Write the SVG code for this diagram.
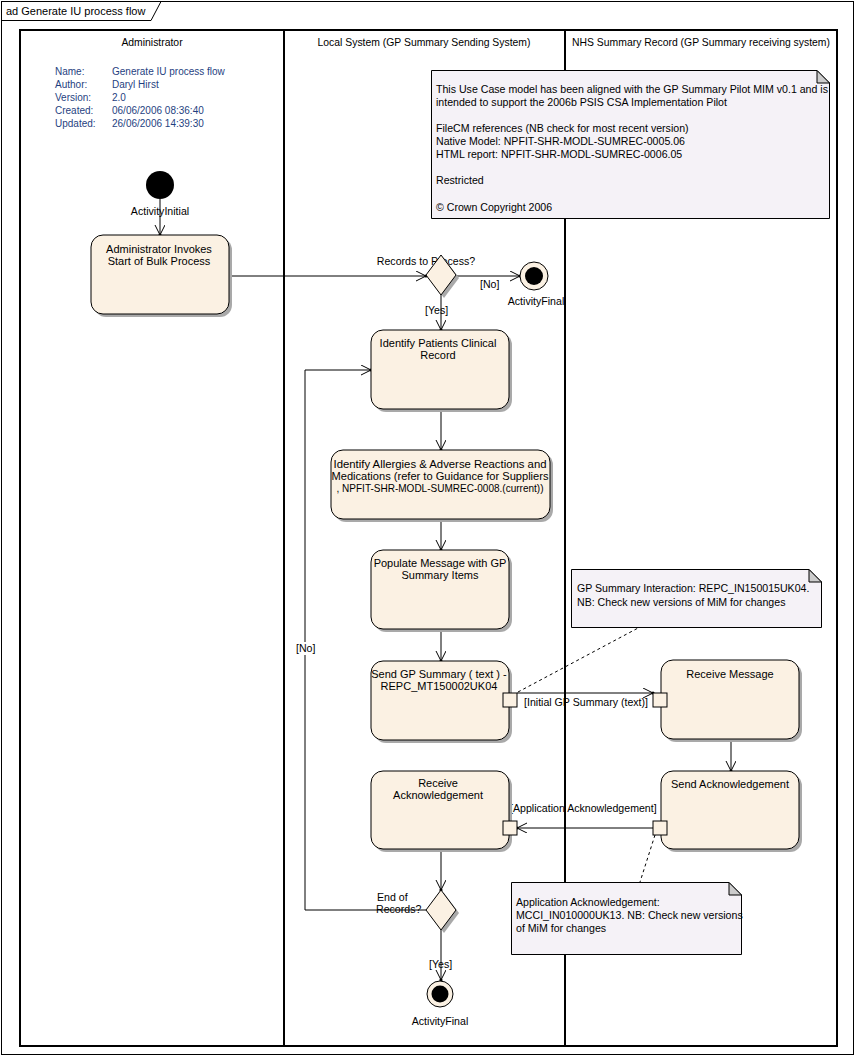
<svg xmlns="http://www.w3.org/2000/svg" width="857" height="1058" viewBox="0 0 857 1058">
<style>
.t{font-family:"Liberation Sans",Arial,sans-serif;font-size:10.6px;fill:#000}
.h{font-size:10.4px}
.nt{font-size:11px}
.m{fill:#1F3F7F;font-size:10px}
.mid{text-anchor:middle}
.n{fill:#FBF1E3;stroke:#000;stroke-width:1}
.sh{fill:#A9A9A9}
.pin{fill:#FBF1E3;stroke:#000;stroke-width:1}
.note{fill:#F5F2F7;stroke:#000;stroke-width:1}
.fold{fill:#CCCCCC;stroke:#000;stroke-width:1}
.c{fill:none;stroke:#000;stroke-width:1}
.d{fill:none;stroke:#000;stroke-width:1;stroke-dasharray:3,3}
</style>
<defs>
<marker id="arr" markerUnits="userSpaceOnUse" markerWidth="14" markerHeight="12" refX="11" refY="5" orient="auto">
<path d="M1,0 L11,5 L1,10" fill="none" stroke="#000" stroke-width="1"/>
<circle cx="11" cy="5" r="1.6" fill="#000"/>
</marker>
</defs>
<rect width="857" height="1058" fill="#fff"/>
<g id="frame">
<rect x="1.5" y="1.5" width="852" height="1053" fill="none" stroke="#000" stroke-width="1"/>
<path d="M1.5,20.5 H151 L161,1.5" fill="none" stroke="#000" stroke-width="1"/>
<text class="t" x="6" y="15" style="font-size:11px">ad Generate IU process flow</text>
</g>
<g id="lanes">
<rect x="20" y="30" width="817" height="1016" fill="none" stroke="#000" stroke-width="2"/>
<line x1="284" y1="30" x2="284" y2="1046" stroke="#000" stroke-width="2"/>
<line x1="565" y1="30" x2="565" y2="1046" stroke="#000" stroke-width="2"/>
<text class="t h mid" x="152" y="46">Administrator</text>
<text class="t h mid" x="424" y="46">Local System (GP Summary Sending System)</text>
<text class="t h mid" x="701" y="46">NHS Summary Record (GP Summary receiving system)</text>
</g>
<g id="meta">
<text class="t m" x="55" y="75">Name:</text><text class="t m" x="112" y="75">Generate IU process flow</text>
<text class="t m" x="55" y="88">Author:</text><text class="t m" x="112" y="88">Daryl Hirst</text>
<text class="t m" x="55" y="101">Version:</text><text class="t m" x="112" y="101">2.0</text>
<text class="t m" x="55" y="114">Created:</text><text class="t m" x="112" y="114">06/06/2006 08:36:40</text>
<text class="t m" x="55" y="127">Updated:</text><text class="t m" x="112" y="127">26/06/2006 14:39:30</text>
</g>
<g id="connectors">
<line class="c" x1="160" y1="199" x2="160" y2="235" marker-end="url(#arr)"/>
<line class="c" x1="229" y1="276" x2="426" y2="276" marker-end="url(#arr)"/>
<line class="c" x1="456" y1="276" x2="520" y2="276" marker-end="url(#arr)"/>
<line class="c" x1="441" y1="295" x2="441" y2="330" marker-end="url(#arr)"/>
<line class="c" x1="441" y1="409" x2="441" y2="450" marker-end="url(#arr)"/>
<line class="c" x1="441" y1="519" x2="441" y2="550" marker-end="url(#arr)"/>
<line class="c" x1="441" y1="629" x2="441" y2="661" marker-end="url(#arr)"/>
<line class="c" x1="517" y1="693" x2="653" y2="693" marker-end="url(#arr)"/>
<line class="c" x1="731" y1="739" x2="731" y2="771" marker-end="url(#arr)"/>
<line class="c" x1="653" y1="828" x2="517" y2="828" marker-end="url(#arr)"/>
<line class="c" x1="441" y1="849" x2="441" y2="890" marker-end="url(#arr)"/>
<line class="c" x1="441" y1="930" x2="441" y2="980" marker-end="url(#arr)"/>
<polyline class="c" points="426,910 305,910 305,370 371,370" marker-end="url(#arr)"/>
<line class="d" x1="518" y1="692" x2="640" y2="627"/>
<line class="d" x1="655" y1="835" x2="640" y2="882"/>
<text class="t mid" x="426" y="265">Records to Process?</text>
<text class="t" x="480" y="288">[No]</text>
<text class="t" x="425" y="314">[Yes]</text>
<rect x="295" y="642" width="22" height="13" fill="#fff"/>
<text class="t" x="296" y="652">[No]</text>
<text class="t" x="524" y="706">[Initial GP Summary (text)]</text>
<text class="t" x="510" y="812">[Application Acknowledgement]</text>
<text class="t" x="377" y="901">End of</text>
<text class="t" x="376" y="913">Records?</text>
<text class="t" x="429" y="968">[Yes]</text>
</g>
<g id="initial">
<circle cx="160" cy="185" r="14" fill="#000"/>
<text class="t mid" x="160" y="215">ActivityInitial</text>
</g>
<g id="adminInvokes">
<rect class="sh" x="94" y="238" width="138" height="79" rx="12"/>
<rect class="n" x="91" y="235" width="138" height="79" rx="12"/>
<text class="t nt mid" x="159" y="253">Administrator Invokes</text>
<text class="t nt mid" x="159" y="265">Start of Bulk Process</text>
</g>
<g id="decision1">
<path class="sh" d="M444,258 L459,278 L444,298 L429,278 Z"/>
<path class="n" d="M441,255 L456,275 L441,295 L426,275 Z"/>
</g>
<g id="final1">
<circle cx="534" cy="276" r="14" fill="#FBF1E3" stroke="#000"/>
<circle cx="534" cy="276" r="9" fill="#000"/>
<text class="t mid" x="536" y="305">ActivityFinal</text>
</g>
<g id="identifyPatients">
<rect class="sh" x="374" y="333" width="138" height="79" rx="12"/>
<rect class="n" x="371" y="330" width="138" height="79" rx="12"/>
<text class="t nt mid" x="438" y="347">Identify Patients Clinical</text>
<text class="t nt mid" x="438" y="359">Record</text>
</g>
<g id="identifyAllergies">
<rect class="sh" x="334" y="453" width="219" height="69" rx="12"/>
<rect class="n" x="331" y="450" width="219" height="69" rx="12"/>
<text class="t nt mid" x="440" y="468" textLength="213" lengthAdjust="spacingAndGlyphs">Identify Allergies &amp; Adverse Reactions and</text>
<text class="t nt mid" x="440" y="480" textLength="217" lengthAdjust="spacingAndGlyphs">Medications (refer to Guidance for Suppliers</text>
<text class="t nt mid" x="440" y="492" textLength="207" lengthAdjust="spacingAndGlyphs">, NPFIT-SHR-MODL-SUMREC-0008.(current))</text>
</g>
<g id="populate">
<rect class="sh" x="374" y="553" width="138" height="79" rx="12"/>
<rect class="n" x="371" y="550" width="138" height="79" rx="12"/>
<text class="t nt mid" x="440" y="567">Populate Message with GP</text>
<text class="t nt mid" x="440" y="579">Summary Items</text>
</g>
<g id="sendSummary">
<rect class="sh" x="374" y="664" width="138" height="79" rx="12"/>
<rect class="n" x="371" y="661" width="138" height="79" rx="12"/>
<text class="t nt mid" x="439" y="678">Send GP Summary ( text ) -</text>
<text class="t nt mid" x="439" y="690">REPC_MT150002UK04</text>
<rect class="pin" x="503" y="693" width="14" height="14"/>
</g>
<g id="receiveMessage">
<rect class="sh" x="664" y="663" width="138" height="79" rx="12"/>
<rect class="n" x="661" y="660" width="138" height="79" rx="12"/>
<text class="t nt mid" x="730" y="678">Receive Message</text>
<rect class="pin" x="653" y="693" width="14" height="14"/>
</g>
<g id="sendAck">
<rect class="sh" x="664" y="774" width="138" height="78" rx="12"/>
<rect class="n" x="661" y="771" width="138" height="78" rx="12"/>
<text class="t nt mid" x="730" y="788">Send Acknowledgement</text>
<rect class="pin" x="653" y="821" width="14" height="14"/>
</g>
<g id="receiveAck">
<rect class="sh" x="374" y="774" width="138" height="78" rx="12"/>
<rect class="n" x="371" y="771" width="138" height="78" rx="12"/>
<text class="t nt mid" x="438" y="787">Receive</text>
<text class="t nt mid" x="438" y="799">Acknowledgement</text>
<rect class="pin" x="503" y="821" width="14" height="14"/>
</g>
<g id="decision2">
<path class="sh" d="M444,893 L459,913 L444,933 L429,913 Z"/>
<path class="n" d="M441,890 L456,910 L441,930 L426,910 Z"/>
</g>
<g id="final2">
<circle cx="440" cy="994" r="13" fill="#FBF1E3" stroke="#000"/>
<circle cx="440" cy="994" r="8.5" fill="#000"/>
<text class="t mid" x="440" y="1025">ActivityFinal</text>
</g>
<g id="noteTop">
<path class="note" d="M431.5,70.5 H817 L829.5,83 V218.5 H431.5 Z"/>
<path class="fold" d="M817,70.5 V83 H829.5 Z"/>
<text class="t" x="436" y="93" textLength="392" lengthAdjust="spacingAndGlyphs">This Use Case model has been aligned with the GP Summary Pilot MIM v0.1 and is</text>
<text class="t" x="436" y="106">intended to support the 2006b PSIS CSA Implementation Pilot</text>
<text class="t" x="436" y="132">FileCM references (NB check for most recent version)</text>
<text class="t" x="436" y="145">Native Model: NPFIT-SHR-MODL-SUMREC-0005.06</text>
<text class="t" x="436" y="158">HTML report:  NPFIT-SHR-MODL-SUMREC-0006.05</text>
<text class="t" x="436" y="184">Restricted</text>
<text class="t" x="436" y="211">© Crown Copyright 2006</text>
</g>
<g id="noteInteraction">
<path class="note" d="M571.5,569.5 H809 L821.5,582 V627.5 H571.5 Z"/>
<path class="fold" d="M809,569.5 V582 H821.5 Z"/>
<text class="t" x="577" y="592">GP Summary Interaction: REPC_IN150015UK04.</text>
<text class="t" x="577" y="606">NB: Check new versions of MiM for changes</text>
</g>
<g id="noteAck">
<path class="note" d="M511.5,882.5 H729 L741.5,895 V954.5 H511.5 Z"/>
<path class="fold" d="M729,882.5 V895 H741.5 Z"/>
<text class="t" x="516" y="906">Application Acknowledgement:</text>
<text class="t" x="516" y="919">MCCI_IN010000UK13. NB: Check new versions</text>
<text class="t" x="516" y="932">of MiM for changes</text>
</g>
</svg>
